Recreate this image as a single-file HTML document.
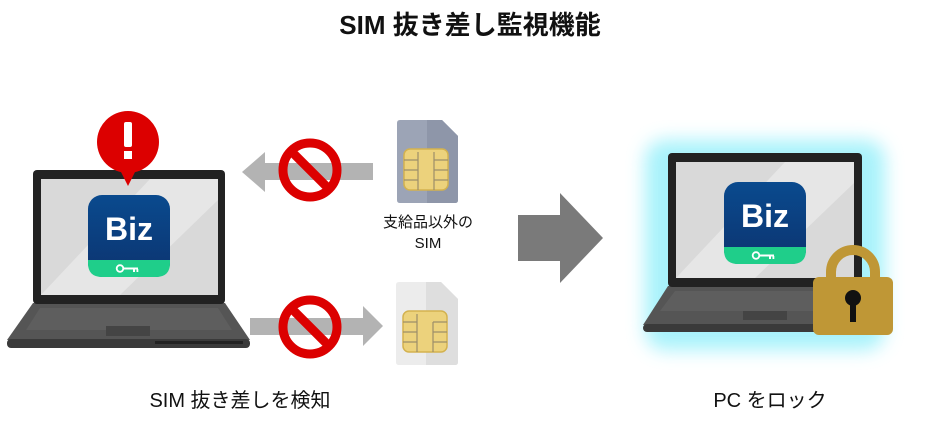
<!DOCTYPE html>
<html><head><meta charset="utf-8"><style>
html,body{margin:0;padding:0;background:#fff;width:940px;height:422px;overflow:hidden}
svg{display:block}
text{font-family:"Liberation Sans","Noto Sans CJK JP",sans-serif}
</style></head><body>
<svg width="940" height="422" viewBox="0 0 940 422" xmlns="http://www.w3.org/2000/svg">
<defs>
<filter id="glow" x="-30%" y="-30%" width="160%" height="160%"><feGaussianBlur stdDeviation="9"/></filter>
<linearGradient id="biz" x1="0" y1="0" x2="0" y2="1"><stop offset="0" stop-color="#0a4a8e"/><stop offset="1" stop-color="#0c3470"/></linearGradient>
</defs>
<text x="470" y="34" font-size="26" font-weight="bold" text-anchor="middle" fill="#111">SIM 抜き差し監視機能</text>

<!-- left laptop -->
<g>
<path d="M33 303 L225 303 L250 340 L7 340 Z" fill="#555"/>
<path d="M40 308 L218 308 L232 330 L26 330 Z" fill="#5e5e5e"/>
<rect x="106" y="326" width="44" height="10" fill="#444"/>
<rect x="7" y="339" width="243" height="9" rx="4" fill="#3a3a3a"/>
<rect x="155" y="341" width="88" height="3" fill="#222"/>
<rect x="33" y="170" width="192" height="134" rx="4" fill="#222"/>
<rect x="41" y="179" width="177" height="116" fill="#d9d9d9"/>
<path d="M41 295 L150 179 L218 179 L218 200 L120 295 Z" fill="#e6e6e6"/>
<rect x="88" y="195" width="82" height="82" rx="14" fill="url(#biz)"/>
<path d="M88 260 H170 V263 Q170 277 156 277 H102 Q88 277 88 263 Z" fill="#1fce8a"/>
<text x="129" y="240" font-size="32" font-weight="bold" fill="#fff" text-anchor="middle">Biz</text>
<circle cx="120" cy="268.5" r="3.3" fill="none" stroke="#fff" stroke-width="1.8"/><rect x="123" y="267.5" width="15" height="2" fill="#fff"/><rect x="133" y="269" width="2" height="3" fill="#fff"/><rect x="136.5" y="269" width="1.8" height="3" fill="#fff"/>
<circle cx="128" cy="142" r="31" fill="#dc0000"/>
<path d="M120 170 L128 186 L136 170 Z" fill="#dc0000"/>
<rect x="124" y="122" width="8" height="25" rx="2" fill="#fff"/>
<rect x="124" y="151" width="8" height="8" fill="#fff"/>
</g>

<!-- top arrow -->
<rect x="258" y="163" width="115" height="17" fill="#b3b3b3"/>
<path d="M242 172 L265 152 L265 192 Z" fill="#b3b3b3"/>
<circle cx="310" cy="170" r="27" fill="none" stroke="#dc0000" stroke-width="9"/>
<line x1="291" y1="151" x2="329" y2="189" stroke="#dc0000" stroke-width="9"/>

<!-- bottom arrow -->
<rect x="250" y="318" width="118" height="17" fill="#b3b3b3"/>
<path d="M383 326 L363 306 L363 346 Z" fill="#b3b3b3"/>
<circle cx="310" cy="327" r="27" fill="none" stroke="#dc0000" stroke-width="9"/>
<line x1="291" y1="308" x2="329" y2="346" stroke="#dc0000" stroke-width="9"/>

<!-- top SIM -->
<path d="M400 120 H442 L458 136 V200 Q458 203 455 203 H400 Q397 203 397 200 V123 Q397 120 400 120Z" fill="#9ca4b6"/>
<path d="M427 120 H442 L458 136 V200 Q458 203 455 203 H427 Z" fill="#8e96a9"/>
<rect x="404" y="149" width="44" height="41" rx="6" fill="#ecd27c" stroke="#d3b24f" stroke-width="1.5"/>
<g stroke="#9c8e6a" stroke-width="1.2" fill="none"><path d="M404 160 H418 M404 170 H418 M404 180 H418 M418 152 V190 M448 160 H434 M448 170 H434 M448 180 H434 M434 160 V190 M434 160 V152"/></g>
<text x="428" y="227" font-size="15" text-anchor="middle" fill="#111">支給品以外の</text>
<text x="428" y="248" font-size="15" text-anchor="middle" fill="#111">SIM</text>

<!-- bottom SIM -->
<path d="M399 282 H441 L458 299 V362 Q458 365 455 365 H399 Q396 365 396 362 V285 Q396 282 399 282Z" fill="#ececec"/>
<path d="M426 282 H441 L458 299 V362 Q458 365 455 365 H426 Z" fill="#dedede"/>
<rect x="403" y="311" width="44" height="41" rx="6" fill="#ecd27c" stroke="#d3b24f" stroke-width="1.5"/>
<g stroke="#9c8e6a" stroke-width="1.2" fill="none"><path d="M403 322 H417 M403 332 H417 M403 342 H417 M417 314 V352 M447 322 H433 M447 332 H433 M447 342 H433 M433 322 V352"/></g>

<!-- big arrow -->
<rect x="518" y="215" width="44" height="46" fill="#7a7a7a"/>
<path d="M560 193 L603 238 L560 283 Z" fill="#7a7a7a"/>

<!-- right laptop -->
<g>
<rect x="645" y="140" width="240" height="210" rx="20" fill="#9ff1fb" filter="url(#glow)" opacity="0.9"/>
<path d="M668 286 L862 286 L885 325 L643 325 Z" fill="#555"/>
<path d="M675 291 L855 291 L868 311 L660 311 Z" fill="#5e5e5e"/>
<rect x="743" y="311" width="44" height="9" fill="#444"/>
<rect x="643" y="324" width="242" height="8" rx="4" fill="#3a3a3a"/>
<rect x="668" y="153" width="194" height="134" rx="4" fill="#222"/>
<rect x="676" y="162" width="178" height="116" fill="#d9d9d9"/>
<path d="M676 278 L785 162 L854 162 L854 183 L755 278 Z" fill="#e6e6e6"/>
<rect x="724" y="182" width="82" height="82" rx="14" fill="url(#biz)"/>
<path d="M724 247 H806 V250 Q806 264 792 264 H738 Q724 264 724 250 Z" fill="#1fce8a"/>
<text x="765" y="227" font-size="32" font-weight="bold" fill="#fff" text-anchor="middle">Biz</text>
<circle cx="756" cy="255.5" r="3.3" fill="none" stroke="#fff" stroke-width="1.8"/><rect x="759" y="254.5" width="15" height="2" fill="#fff"/><rect x="769" y="256" width="2" height="3" fill="#fff"/><rect x="772.5" y="256" width="1.8" height="3" fill="#fff"/>
<!-- lock -->
<path d="M831 282 V272 A22 22 0 0 1 875 272 V282" fill="none" stroke="#bf9736" stroke-width="10"/>
<rect x="813" y="277" width="80" height="58" rx="6" fill="#bf9736"/>
<circle cx="853" cy="298" r="8" fill="#111"/>
<rect x="850" y="300" width="6" height="22" fill="#111"/>
</g>

<text x="240" y="407" font-size="20" text-anchor="middle" fill="#111">SIM 抜き差しを検知</text>
<text x="770" y="407" font-size="20" text-anchor="middle" fill="#111">PC をロック</text>
</svg>
</body></html>
